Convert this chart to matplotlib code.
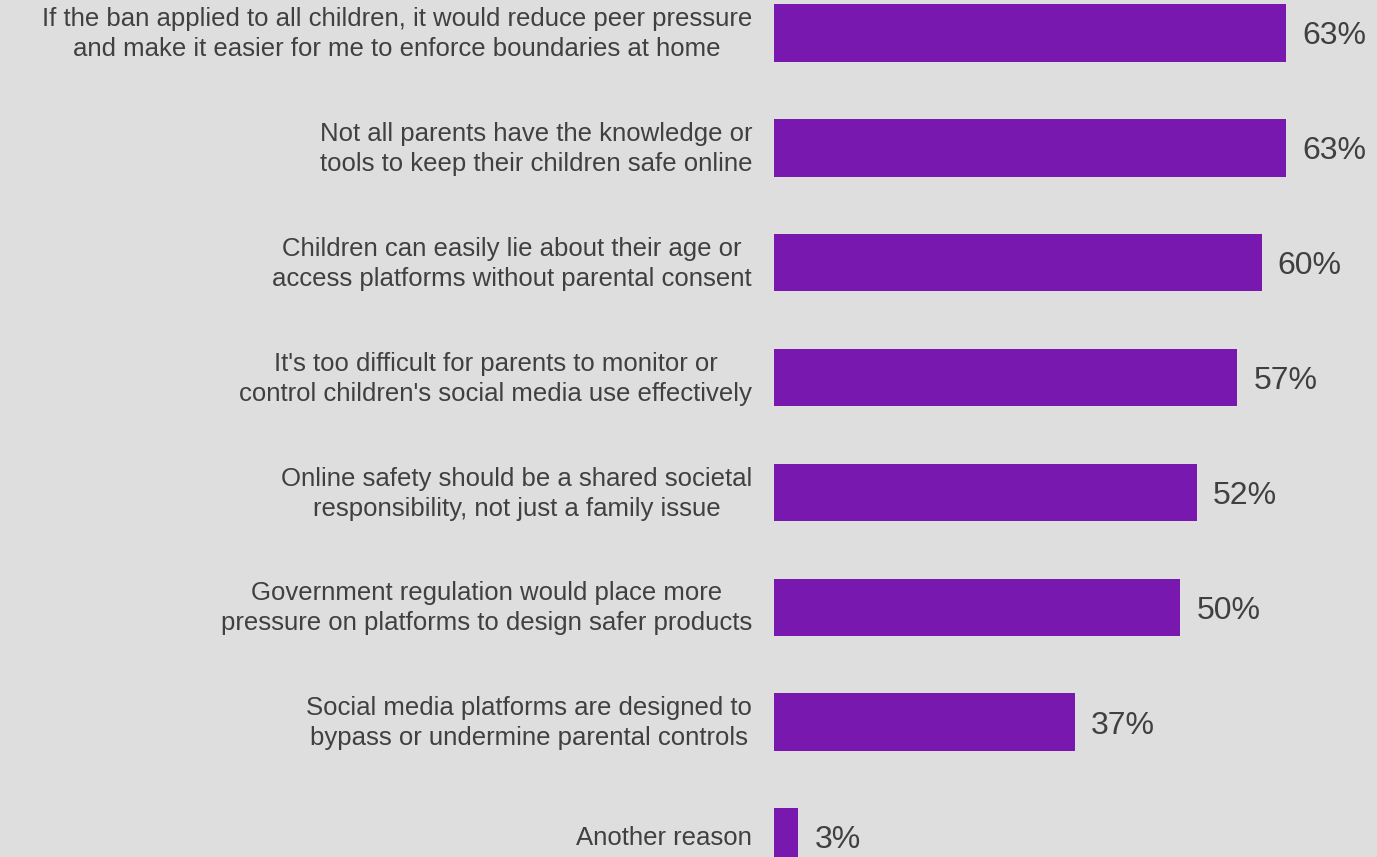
import matplotlib.pyplot as plt

plt.rcParams['font.family'] = ['Liberation Sans', 'DejaVu Sans']

labels = [
    "If the ban applied to all children, it would reduce peer pressure\nand make it easier for me to enforce boundaries at home",
    "Not all parents have the knowledge or\ntools to keep their children safe online",
    "Children can easily lie about their age or\naccess platforms without parental consent",
    "It's too difficult for parents to monitor or\ncontrol children's social media use effectively",
    "Online safety should be a shared societal\nresponsibility, not just a family issue",
    "Government regulation would place more\npressure on platforms to design safer products",
    "Social media platforms are designed to\nbypass or undermine parental controls",
    "Another reason",
]
values = [63, 63, 60, 57, 52, 50, 37, 3]

bg = '#dedede'
bar_color = '#7818ae'
text_color = '#404040'

fig = plt.figure(figsize=(13.77, 8.57), dpi=100, facecolor=bg)
ax = fig.add_axes([0, 0, 1, 1])
ax.set_facecolor(bg)

ypos = list(range(len(values)))
ax.barh(ypos, values, height=0.5, color=bar_color)

for y, lab, v in zip(ypos, labels, values):
    ax.text(-2.7, y + 0.01, lab, ha='right', va='center', multialignment='center',
            fontsize=18.5, color=text_color, linespacing=1.32)
    ax.text(v + 2.0, y + 0.03, f"{v}%", ha='left', va='center',
            fontsize=23, color=text_color)

ax.set_xlim(-95.24, 74.2)
ax.set_ylim(7.174, -0.287)
ax.axis('off')

fig.savefig('out.png', dpi=100, facecolor=bg)
